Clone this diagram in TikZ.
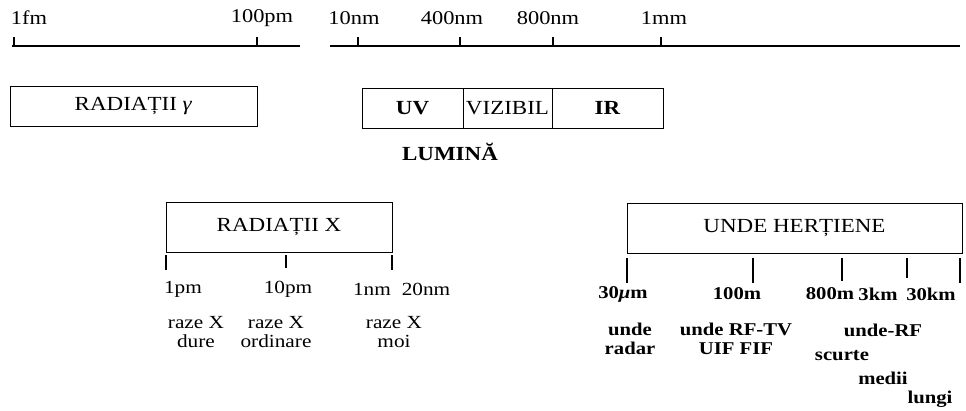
\documentclass[tikz,border=0pt]{standalone}
\usepackage{fontspec}
\setmainfont{Liberation Serif}[FakeStretch=1.15]
\pgfdeclarelayer{edgelayer}
\pgfdeclarelayer{nodelayer}
\pgfsetlayers{edgelayer,nodelayer,main}
\tikzstyle{band}=[draw=black, line width=1pt, inner sep=0pt, font=\fontsize{20}{22}\selectfont]
\tikzstyle{tick}=[draw=black, line width=1.1pt]
\tikzstyle{scale label}=[inner sep=0pt, font=\fontsize{19.5}{20}\selectfont]
\tikzstyle{sub label}=[inner sep=0pt, align=center, font=\fontsize{18.5}{19}\selectfont]
\tikzstyle{radio label}=[inner sep=0pt, align=center, font=\bfseries\fontsize{18}{19}\selectfont]

\begin{document}
\begin{tikzpicture}[x=1pt, y=-1pt]
			\useasboundingbox (0,0) rectangle (966,410);
			\begin{pgfonlayer}{nodelayer}
			% scale on top
			\node [style=scale label] (l0) at (29, 18) {1fm};
			\node [style=scale label] (l1) at (262, 18) {100pm};
			\node [style=scale label] (l2) at (354, 18) {10nm};
			\node [style=scale label] (l3) at (452, 18) {400nm};
			\node [style=scale label] (l4) at (548, 18) {800nm};
			\node [style=scale label] (l5) at (664, 18) {1mm};
			\coordinate (a0) at (12, 46);
			\coordinate (a1) at (300, 46);
			\coordinate (a2) at (330, 46);
			\coordinate (a3) at (960, 46);
			\coordinate (t0) at (14, 46);
			\coordinate (t1) at (257, 46);
			\coordinate (t2) at (358, 46);
			\coordinate (t3) at (460, 46);
			\coordinate (t4) at (553, 46);
			\coordinate (t5) at (661, 46);
			% bands
			\node [style=band, minimum width=247pt, minimum height=40pt] (gamma) at (133.5, 106) {RADIAȚII \textit{γ}};
			\node [style=band, minimum width=101pt, minimum height=40pt] (uv) at (412.5, 108) {\bfseries UV};
			\node [style=band, minimum width=89pt, minimum height=40pt] (viz) at (507.5, 108) {VIZIBIL};
			\node [style=band, minimum width=111pt, minimum height=40pt] (ir) at (607.5, 108) {\bfseries IR};
			\node [style=radio label, font=\bfseries\fontsize{20}{20}\selectfont] (light) at (450, 152) {LUMINĂ};
			\node [style=band, minimum width=226pt, minimum height=50pt] (xray) at (279, 227) {RADIAȚII X};
			\node [style=band, minimum width=335pt, minimum height=50pt] (hertz) at (794.5, 228) {UNDE HERȚIENE};
			% x-ray scale
			\coordinate (x0) at (166, 255);
			\coordinate (x1) at (286, 255);
			\coordinate (x2) at (392, 255);
			\node [style=sub label] (x3) at (183, 289) {1pm};
			\node [style=sub label] (x4) at (288, 289) {10pm};
			\node [style=sub label] (x5) at (372, 289) {1nm};
			\node [style=sub label] (x6) at (426, 289) {20nm};
			\node [style=sub label] (x7) at (196, 332) {raze X\\dure};
			\node [style=sub label] (x8) at (276, 332) {raze X\\ordinare};
			\node [style=sub label] (x9) at (394, 332) {raze X\\moi};
			% radio scale
			\coordinate (h0) at (627, 258);
			\coordinate (h1) at (753, 258);
			\coordinate (h2) at (842, 258);
			\coordinate (h3) at (907, 258);
			\coordinate (h4) at (960, 258);
			\node [style=radio label] (h5) at (623, 294) {30\textit{μ}m};
			\node [style=radio label] (h6) at (737, 294) {100m};
			\node [style=radio label] (h7) at (830, 294) {800m};
			\node [style=radio label] (h8) at (878, 294) {3km};
			\node [style=radio label] (h9) at (931, 294) {30km};
			\node [style=radio label] (h10) at (630, 339) {unde\\radar};
			\node [style=radio label] (h11) at (736, 339) {unde RF-TV\\UIF FIF};
			\node [style=radio label] (h12) at (883, 330) {unde-RF};
			\node [style=radio label] (h13) at (842, 356) {scurte};
			\node [style=radio label] (h14) at (883, 378) {medii};
			\node [style=radio label] (h15) at (930, 399) {lungi};
			\end{pgfonlayer}
			\begin{pgfonlayer}{edgelayer}
			\draw [style=tick] (a0) to (a1);
			\draw [style=tick] (a2) to (a3);
			\draw [style=tick] (t0) -- ++(0, -9);
			\draw [style=tick] (t1) -- ++(0, -9);
			\draw [style=tick] (t2) -- ++(0, -9);
			\draw [style=tick] (t3) -- ++(0, -9);
			\draw [style=tick] (t4) -- ++(0, -9);
			\draw [style=tick] (t5) -- ++(0, -9);
			\draw [style=tick] (x0) -- ++(0, 15);
			\draw [style=tick] (x1) -- ++(0, 13);
			\draw [style=tick] (x2) -- ++(0, 15);
			\draw [style=tick] (h0) -- ++(0, 25);
			\draw [style=tick] (h1) -- ++(0, 25);
			\draw [style=tick] (h2) -- ++(0, 23);
			\draw [style=tick] (h3) -- ++(0, 20);
			\draw [style=tick] (h4) -- ++(0, 25);
			\end{pgfonlayer}
\end{tikzpicture}
\end{document}
